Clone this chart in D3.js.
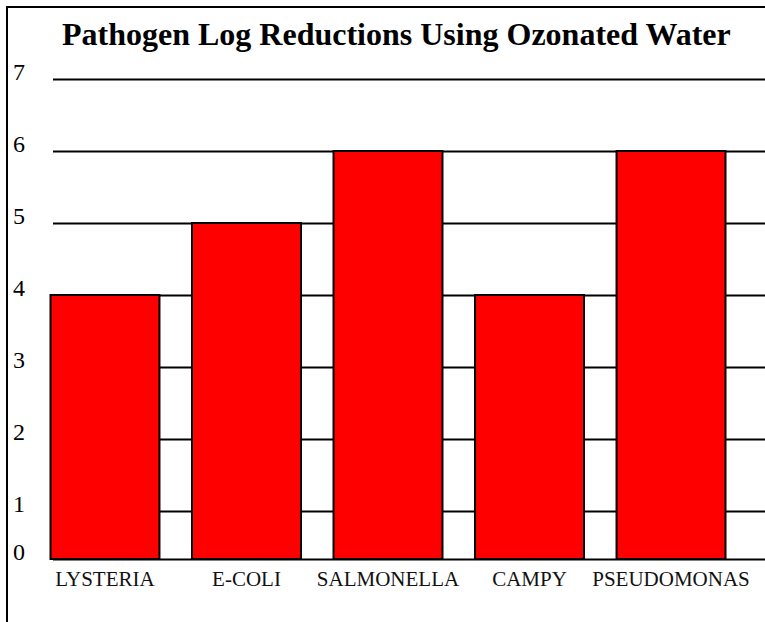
<!DOCTYPE html>
<html>
<head>
<meta charset="utf-8">
<script src="https://cdn.jsdelivr.net/npm/d3@7"></script>
<style>
    html, body { margin: 0; padding: 0; background: #fff; }
    svg { display: block; font-family: "Liberation Serif", "Times New Roman", serif; }
    .axis--y .domain { display: none; }
    .axis--y line { stroke: #000; stroke-width: 2; }
    .axis--y text { font-family: "Liberation Serif", "Times New Roman", serif; font-size: 24px; fill: #000; }
</style>
</head>
<body>
<svg id="chart" width="765" height="622"></svg>
<script>
// chart data
var title = "Pathogen Log Reductions Using Ozonated Water";
var pathogens = ["LYSTERIA", "E-COLI", "SALMONELLA", "CAMPY", "PSEUDOMONAS"];
var logReductions = [4, 5, 6, 4, 6];
var yTicks = [0, 1, 2, 3, 4, 5, 6, 7];

var svg = d3.select("#chart");
var width = +svg.attr("width"),
    height = +svg.attr("height");

var plotLeft = 53, plotRight = width;

// the original axis has a short first step (0 -> 1), then even steps up to 7
var y = d3.scaleLinear()
    .domain([0, 1, 7])
    .range([559, 511, 79]);

var x = d3.scaleBand()
    .domain(pathogens)
    .range([50.5, 725.5])
    .paddingInner(0.23)
    .paddingOuter(0);

// outer frame, cut off by the right and bottom of the picture
svg.append("rect")
    .attr("x", 7)
    .attr("y", 7)
    .attr("width", width)
    .attr("height", height)
    .attr("fill", "none")
    .attr("stroke", "#000")
    .attr("stroke-width", 2);

// gridlines + tick labels
var yAxis = svg.append("g")
    .attr("class", "axis axis--y")
    .attr("transform", "translate(" + plotLeft + ",0)")
    .call(d3.axisLeft(y)
        .tickValues(yTicks)
        .tickFormat(d3.format("d"))
        .tickSize(-(plotRight - plotLeft)));

yAxis.selectAll("text")
    .attr("x", 13 - plotLeft)
    .attr("dy", 0)
    .attr("text-anchor", "start");

// bars
svg.append("g")
    .selectAll("rect")
    .data(logReductions)
    .enter().append("rect")
    .attr("x", function(d, i) { return x(pathogens[i]); })
    .attr("y", function(d) { return y(d); })
    .attr("width", x.bandwidth())
    .attr("height", function(d) { return y(0) - y(d); })
    .attr("fill", "#ff0000")
    .attr("stroke", "#000")
    .attr("stroke-width", 2);

// category labels
svg.append("g")
    .selectAll("text")
    .data(pathogens)
    .enter().append("text")
    .attr("x", function(d) { return x(d) + x.bandwidth() / 2; })
    .attr("y", y(0) + 27)
    .attr("text-anchor", "middle")
    .attr("font-size", 21)
    .attr("fill", "#111")
    .text(function(d) { return d; });

svg.append("text")
    .attr("x", 62)
    .attr("y", 45)
    .attr("font-size", 32)
    .attr("font-weight", "bold")
    .attr("fill", "#000")
    .text(title);
</script>
</body>
</html>
